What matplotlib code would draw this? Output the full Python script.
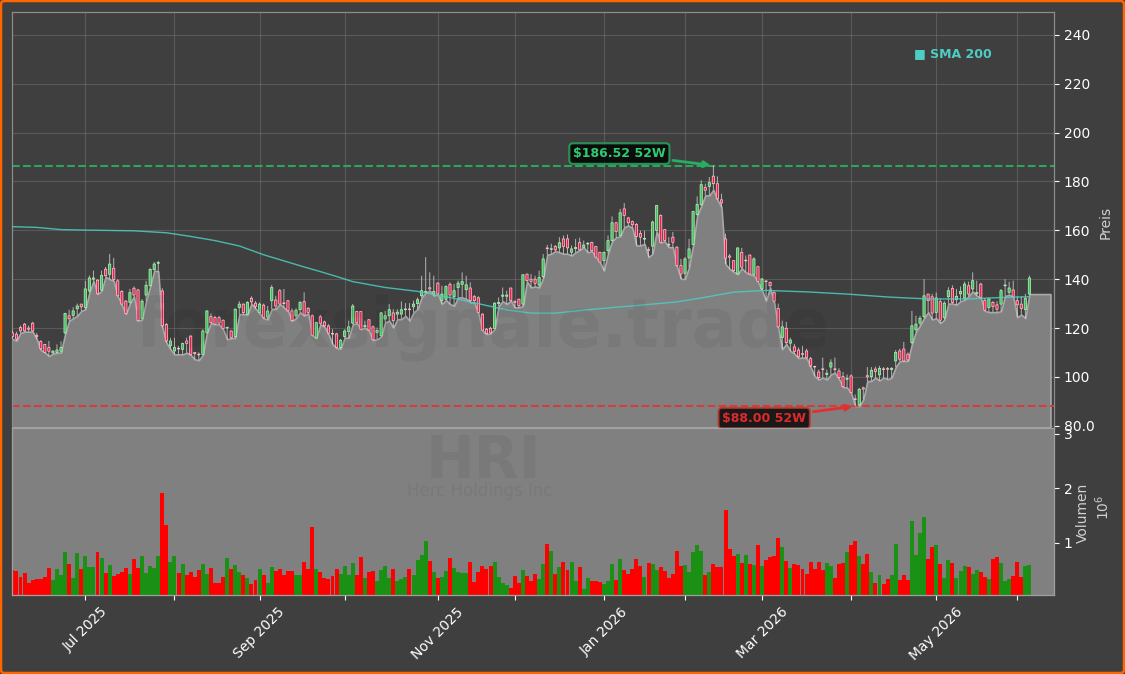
import matplotlib
matplotlib.use("Agg")
import matplotlib.pyplot as plt
from matplotlib.patches import FancyBboxPatch

W, H = 1125, 674

opens = [118,117.5,120.2,121.6,120,122,117,114.5,113.3,112,
109.8,110,110.5,118,125,125.2,127.9,129.8,128.4,135.2,
140,139.6,135.5,144.1,142,144.5,139.3,135,131,130.5,
136.3,135.6,124,133.5,137.3,143.9,146.5,135.2,121.5,112.7,
110.6,111.6,111.3,114.7,116.7,110,109.3,109.2,118,124.7,
124.3,124.3,123.2,120,118.8,116.5,128.4,129.8,125.7,132.2,
130.2,126.3,129.4,124.5,131.2,131.5,135.3,130.2,131.2,127,
125,127.5,130.8,128.1,125,116,124.6,122.5,120.9,117.6,
117.6,112,116.5,118.5,122,126.8,126.8,120.5,123.4,120.5,
118.2,116.8,123.7,125,126.2,125.7,125.7,127.5,127.8,128.7,
130,133.2,134.5,136.5,134,138.4,131.2,131.8,137.9,132.8,
136.6,137.9,135.7,136.4,132.9,132.4,125.7,119.5,119.9,119.8,
130,133,133,136.4,131,131.8,129.8,142.1,140,140,
137.6,141,152.8,152.2,153.4,152.8,156.5,156.5,151,152.5,
155,153,154.4,155.1,153.4,151,147.6,151.7,155.8,163.1,
157.9,168.8,165.1,163.6,162.4,158.7,156.4,152,153.5,160,
166.1,160.3,154.2,157.2,153.1,145.6,142.4,148.7,154.2,166.5,
170.5,177.5,178,182.2,179.1,172.5,156.5,149.5,147.6,142.2,
151,147.5,149.9,141.9,145.1,136,139.1,138.7,134.5,128,
116.1,119.9,113.8,112.3,111,109.3,110.6,107.5,104.2,102,
103.2,101,104,103.1,102.4,100.1,99,100.4,90.9,88.5,
95.5,100.5,100.1,103.2,100.8,103.1,103.2,103,106.5,110.6,
111.4,109.3,114,119.3,122,124.6,133.9,132.8,126.4,130.8,
124.3,132.8,136.2,131.6,134,132,137.3,136,134,138,
131.4,128.4,130.5,129.5,129.8,137.3,134.6,135.6,131.2,129.8,
127.5,133.9]

closes = [116.5,115.5,118.8,118.8,119.5,118.8,116.5,111.5,110,110.5,
110.5,111,112,126,123.8,127,129,128.7,136,140.5,
140.5,134,141.5,141.4,146.2,139.9,133.2,129.8,126,134.5,
133.5,123,131,137.5,144,146.2,146.7,120.9,114.7,114.7,
112,111.4,113.7,113.7,109.2,109.5,109,118.8,127,122.2,
121.6,122,119.8,120.2,116,127.7,129.8,126.3,130.5,130.7,
128.8,129.8,124.3,127,136.6,129,129.8,130,127,123,
127.3,130.5,125.4,126.4,117,122.2,121.9,120.9,117.9,117.5,
112,115,118.8,120.5,129,122.3,119.5,121,119.1,115.2,
119,126.2,125,127.5,123,126.5,127.5,127.7,127.5,129.8,
131.6,135.3,135,136,135,133.9,133.9,137,133.5,135.3,
138.4,139,137.7,131.2,131.2,126.4,119.1,117.7,118,130.2,
130.5,133.5,133.5,131.2,130.5,129.1,141.8,139.4,139.1,138.3,
140.7,148.3,152.5,152.4,152,154.9,153.4,152.8,152.4,153,
152,154,154.6,151.7,149,147,151,155.8,163.1,159.5,
167.2,166.1,163.1,162.3,157.5,157.2,156.6,151.8,163.4,170.2,
155.1,155.8,154,155.1,145.6,142.1,148.3,152.4,167.7,170.6,
178.7,176.4,179.5,179.1,172.9,171.2,148.6,149,143.5,152.8,
144.9,147.7,142.1,148.3,139.1,140.1,139,137.3,131,120.5,
120.5,114,115.1,110.4,108.2,109.2,108,104.5,104,99.7,
103,101.5,105.8,103,99.7,96,99.1,93.5,90.7,94.9,
95,100,102.7,102.2,103.5,103,103.1,103.5,110,107.2,
106.5,106.9,120.9,121.6,124,133.2,131.2,126.1,132.3,123.2,
130.2,135.3,130.5,133,135,138,133.9,139.4,134.5,132.5,
127.3,131.9,128.8,127.7,135.3,137.4,136.4,133,129.5,128,
132.1,140.5]

highs = [119,118.5,121,122,121,122.5,118,115,113.5,114.7,
111,113.3,114.5,126.2,127.5,128.5,130,129.8,139.3,141.5,
143.5,140,143.5,145,150.3,148.7,140,135.5,131.5,136,
137,136,131.8,139.3,144.5,147,147.5,136.3,122,116,
116,112.7,114,116,117,110,110,119.5,127.2,126,
125,125,123.5,120.5,119,128,131,130,131,133,
131,130.5,130,129,137.6,133.2,136,136,131.5,128,
128,131,134.6,128.5,125.5,122.5,125.4,123,121.5,119.5,
118,115.5,119.5,123,129.8,127,127,123,123.5,121,
120.2,126.5,127,129.8,127.7,127.7,130.9,130.2,130.2,131.2,
132.5,141.4,149,142.8,141.4,138.7,137.3,137.5,138.7,138,
139.4,142.8,141.4,138.7,133.5,133,126,120,120.5,130.5,
132.5,136.6,135.3,136.4,131.2,132,142,142.2,142.1,141.4,
143.5,150.3,154,154.5,154,157.2,157.9,158.3,153.8,156.5,
157,155.8,155.2,155.3,153.5,151.2,151.2,157.9,165.7,163.5,
168.8,171.2,165.5,164,163,159.9,159.9,153.1,164,170.2,
166.5,160.5,157.2,159.3,153.5,148.3,149,156.5,168,173.9,
180.5,179.1,181.8,186.52,182.1,175,158.6,150.3,147.8,153,
152.8,149.7,150,149,145.5,140.5,139.4,139,135,130,
123,122.5,116,113.5,112,112.7,111.5,108.2,104.5,103,
107.9,103,107.2,107.9,103.5,102,101,101,92.8,95.5,
96,104,104,104.2,104.5,104,104,104,111,111.5,
114.3,110,127,125,125,140,134,134,134.5,132,
131,136.7,137.5,136,137,139,139,142.8,139.4,138.5,
132,132.5,131,131,136,140,139,139.4,133,133,
134,141.5]

lows = [115.5,114.8,118,118.5,118.5,118.5,115.5,111,110,108.5,
109.5,109.8,110,117.5,123,124,125,127,127.7,134.5,
139.3,133.9,135.2,141,140,139.3,133,129.5,125.7,130,
133,122.9,123.5,131.1,137,143.5,143.2,120.2,114,111.3,
109.2,109.2,109.2,109.9,109,107.2,106.8,109,118,122,
121.5,121.5,119.5,115.4,115.8,116,125.7,125.7,125.5,130,
128,126,124,123.5,127.8,127.8,129.8,128.4,127,122.9,
124,126.5,125,126,117,115.8,121.5,120.5,117.5,113.4,
111.8,111.5,116,116,121.5,122,119.5,120,119,115,
115.4,116.5,122.3,123,120.2,123.6,123.6,125,123,126.4,
127.8,132.5,134.5,135.3,133.2,133.8,129.8,131.5,129.8,129.1,
132.5,132.5,131.9,130.5,130.5,126,119,117.5,117.8,119.5,
129,131,129.8,131.2,128.4,128.5,129,139,136.6,137,
136.6,140.5,150,150.4,151.5,151,150.4,150.4,149.7,151,
152,153,151,151.5,149,147,143.5,150.5,155.5,157.2,
157.5,161.3,162,161,153.8,153.8,154.5,149,150.4,159.5,
155,155.5,153.1,153.1,145.3,140.1,140.1,144.9,154,166,
170,174.3,174.3,176.6,172.5,169.5,146.2,144.2,143,142,
144.5,142.8,142,141.5,139,135.5,131.2,136.5,130.5,120,
111.3,113.5,110.6,109.5,107.7,107.9,107.7,104,100.3,98.9,
99.7,98.9,101,101.7,99.2,95.8,95.6,93.4,88,88,
90.8,98.3,98.3,99.7,98.5,99.7,99,99.7,104,106.5,
106.5,106.5,113.5,118.5,121,124,126.5,123.5,124,122,
123.4,130,130,129.5,131,131.5,133,135,133.2,132.4,
127,126.5,126.5,126.5,126.9,133.2,133.5,133,124.4,125.5,
124,133.9]

volumes = [.50,.48,.36,.45,.25,.315,.33,.325,.36,.535,
.315,.515,.405,.83,.61,.345,.805,.515,.755,.55,
.55,.83,.72,.44,.59,.39,.42,.46,.535,.42,
.70,.535,.755,.44,.57,.535,.755,1.916,1.326,.645,
.755,.44,.61,.405,.46,.37,.50,.61,.42,.535,
.26,.26,.37,.72,.515,.59,.46,.405,.35,.24,
.315,.515,.405,.26,.55,.48,.515,.405,.48,.48,
.405,.405,.644,.509,1.29,.509,.46,.35,.331,.386,
.509,.423,.57,.405,.626,.405,.736,.35,.46,.478,
.294,.497,.57,.35,.515,.294,.331,.368,.515,.405,
.681,.773,1.03,.663,.46,.35,.368,.478,.718,.534,
.46,.442,.442,.644,.276,.46,.57,.515,.57,.644,
.368,.257,.22,.165,.386,.257,.497,.386,.294,.423,
.331,.607,.976,.847,.423,.552,.644,.497,.644,.294,
.552,.147,.35,.294,.294,.276,.239,.294,.607,.313,
.70,.497,.423,.515,.70,.57,.368,.626,.607,.497,
.552,.478,.35,.423,.847,.57,.589,.46,.828,.957,
.847,.405,.46,.607,.552,.552,1.602,.884,.755,.791,
.626,.773,.607,.589,.957,.57,.681,.736,.755,1.086,
.92,.663,.534,.607,.589,.515,.423,.644,.515,.644,
.497,.626,.57,.35,.607,.626,.828,.957,1.03,.755,
.607,.791,.46,.257,.405,.239,.331,.405,.976,.313,
.405,.313,1.399,.773,1.178,1.473,.70,.92,.957,.607,
.35,.681,.626,.35,.478,.57,.552,.423,.497,.46,
.368,.331,.70,.736,.626,.294,.331,.386,.644,.368,
.57,.589]

sma_days = [0,6,12,18,30,38,44,50,56,62,68,72,76,80,84,92,100,108,116,122,128,134,
            144,154,164,170,178,186,196,206,216,226,236,244,251]
sma_vals = [161.5,161.2,160.3,160.1,159.8,159,157.5,155.8,153.6,150,147,145,143.1,141.1,139,
            136.6,135,132.5,129.6,127.4,126.1,126.1,127.8,129.2,130.7,132.3,134.7,135.4,
            134.8,133.9,132.7,131.9,131.9,132.5,132.8]

month_days = [18,40,61,82,105,124,146,166,185,207,228,248]
month_labels = ["Jul 2025","","Sep 2025","","Nov 2025","","Jan 2026","","Mar 2026","","May 2026",""]
price_ticks = [80,100,120,140,160,180,200,220,240]
price_labels = ["80.0","100","120","140","160","180","200","220","240"]
volume_ticks = [1,2,3]
high_52w = 186.52
low_52w = 88.00
high_day = 173
low_day = 208

BG = "#3f3f3f"
AREA = "#808080"
fig = plt.figure(figsize=(W/100, H/100), dpi=100, facecolor=BG)
ax = fig.add_axes([12/W, 1-428/H, 1042/W, 416/H], facecolor=BG)
axv = fig.add_axes([12/W, 1-595/H, 1042/W, 167/H], facecolor=AREA)

days = list(range(len(closes)))
xlim = (-0.1, 257.07)
ylim = (79.06, 249.4)

# area along the lows
area_x = [-1] + days + [256.2]
area_y = [lows[0]] + lows + [lows[-1]]
ax.fill_between(area_x, area_y, 79.3, facecolor=AREA, edgecolor="#a8a8a8", linewidth=1.2, zorder=1)

# candles
wicks = ax.vlines(days, lows, highs, color="#e6e6e6", linewidth=0.7, alpha=0.7, zorder=3)
wicks.set_snap(False)
up = [c >= o for o, c in zip(opens, closes)]
body_low = [min(o, c) for o, c in zip(opens, closes)]
body_h = [max(abs(c-o), 0.3) for o, c in zip(opens, closes)]
bodies = ax.bar(days, body_h, bottom=body_low, width=0.55,
                color=["#3fbf5f" if u else "#e8204e" for u in up],
                edgecolor=["#b4f0b4" if u else "#ffc0cb" for u in up],
                linewidth=0.55, zorder=4)
for b in bodies:
    b.set_snap(False)

ax.plot(sma_days, sma_vals, color="#4ecdc4", linewidth=1.0, alpha=0.85, zorder=5)

ax.axhline(high_52w, color="#27ae60", linestyle="--", linewidth=1.5, alpha=0.95, zorder=2)
ax.axhline(low_52w, color="#e03535", linestyle="--", linewidth=1.5, alpha=0.9, zorder=2)

ax.annotate(f"${high_52w:.2f} 52W", xy=(high_day, high_52w), xytext=(-94, 12), textcoords="offset pixels",
            ha="center", va="center", fontsize=9, fontweight="bold", color="#2ecc71",
            bbox=dict(boxstyle="round,pad=0.3", facecolor="#000000", alpha=0.8, edgecolor="#27ae60", linewidth=1.5),
            arrowprops=dict(arrowstyle="-|>", color="#27ae60", lw=2), zorder=8)
ax.annotate(f"${low_52w:.2f} 52W", xy=(low_day, low_52w), xytext=(-91, -12), textcoords="offset pixels",
            ha="center", va="center", fontsize=9, fontweight="bold", color="#e02a2a",
            bbox=dict(boxstyle="round,pad=0.3", facecolor="#000000", alpha=0.8, edgecolor="#c0392b", linewidth=1.5),
            arrowprops=dict(arrowstyle="-|>", color="#e03030", lw=2), zorder=8)

ax.set_xlim(xlim)
ax.set_ylim(ylim)
ax.set_xticks(month_days)
ax.tick_params(axis="x", length=0, labelbottom=False)
ax.yaxis.tick_right()
ax.set_yticks(price_ticks, price_labels)
ax.tick_params(axis="y", colors="white", labelsize=10)
ax.grid(True, color="#808080", alpha=0.42, linewidth=0.8, zorder=0)
ax.set_axisbelow(True)
for s in ax.spines.values():
    s.set_color("#8c8c8c")
    s.set_linewidth(0.9)
ax.spines["bottom"].set_visible(False)

# volume
axv.bar(days, volumes, width=0.98,
        color=["#1a9014" if u else "#ff0000" for u in up], linewidth=0)
axv.set_xlim(xlim)
axv.set_ylim(0.037, 3.11)
axv.yaxis.tick_right()
axv.set_yticks(volume_ticks, [str(v) for v in volume_ticks])
axv.tick_params(axis="y", colors="white", labelsize=10)
axv.set_xticks(month_days, month_labels, rotation=45, ha="center")
axv.tick_params(axis="x", colors="white", labelsize=10)
for s in axv.spines.values():
    s.set_color("#a0a0a0")
    s.set_linewidth(0.9)

# axis names
fig.text(1106/W, 1-222/H, "Preis", rotation=90, ha="center", va="center", color="#d0d0d0", fontsize=10)
fig.text(1083/W, 1-513/H, "Volumen", rotation=90, ha="center", va="center", color="#d0d0d0", fontsize=10)
fig.text(1103/W, 1-507/H, r"$\mathdefault{10^{6}}$", rotation=90, ha="center", va="center", color="#d0d0d0", fontsize=10)

# legend mark
fig.text(953/W, 1-54/H, "\u25a0 SMA 200", ha="center", va="center", color="#4ecdc4", fontsize=9, fontweight="bold")

# watermarks
fig.text(483/W, 1-328/H, "forexsignale.trade", ha="center", va="center", fontsize=48, fontweight="bold",
         color="black", alpha=0.05)
fig.text(483/W, 1-461/H, "HRI", ha="center", va="center", fontsize=42, fontweight="bold", color="black", alpha=0.05)
fig.text(480/W, 1-491/H, "Herc Holdings Inc", ha="center", va="center", fontsize=12, color="black", alpha=0.05)

# frame
fig.add_artist(FancyBboxPatch((1/W, 1/H), (W-2)/W, (H-2)/H, boxstyle="round,pad=0,rounding_size=0.003",
                              transform=fig.transFigure, mutation_aspect=W/H,
                              facecolor="none", edgecolor="#ff6600", linewidth=1.8, zorder=10))

fig.savefig("out.png", dpi=100, facecolor=BG)
